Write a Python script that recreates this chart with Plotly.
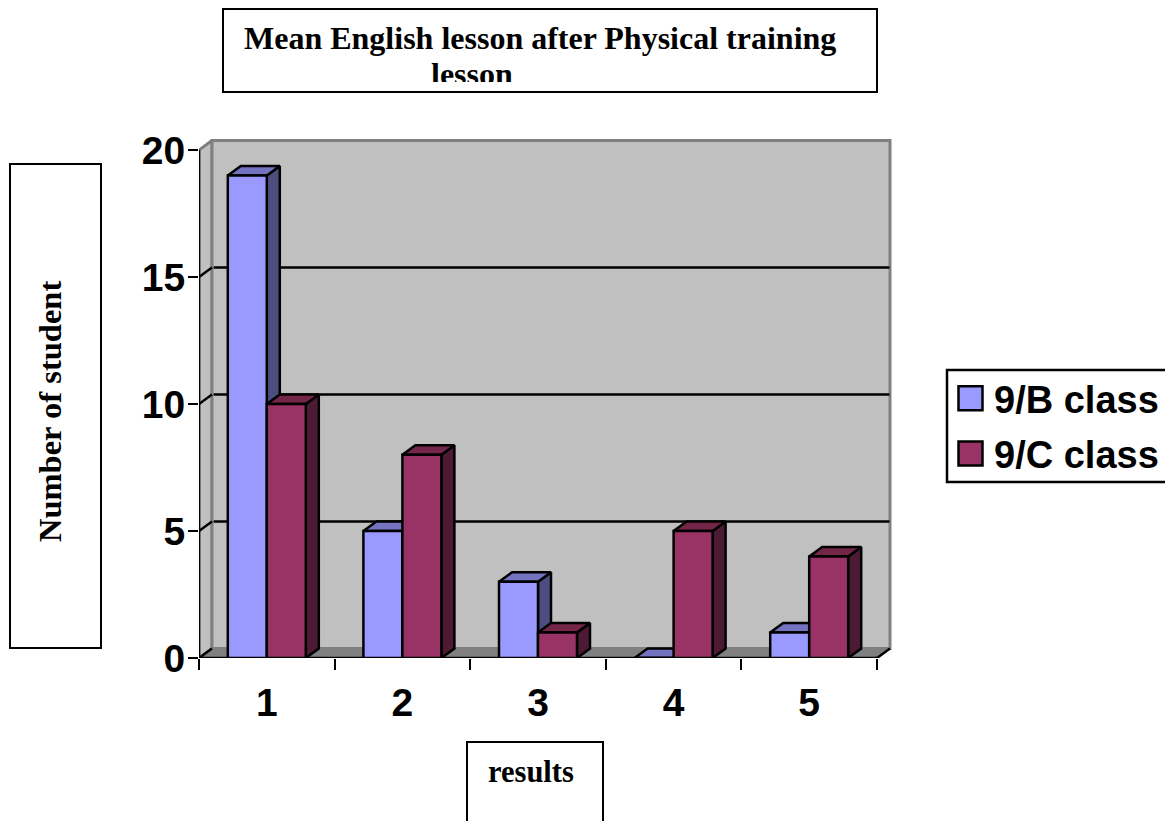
import plotly.graph_objects as go

categories = [1, 2, 3, 4, 5]
class_b = [19, 5, 3, 0, 1]
class_c = [10, 8, 1, 5, 4]
y_ticks = [0, 5, 10, 15, 20]
grid_values = [5, 10, 15]
x_edges = [0.5, 1.5, 2.5, 3.5, 4.5, 5.5]

W, H = 1165, 821
PL, PR, PT, PB = 199, 895, 135, 658      # plot rectangle, px
UX, UY = 135.6, 25.4                     # px per data unit
BAR = 39 / UX
DX, DY = 13 / UX, 9.5 / UY               # 3-D depth in data units
XMIN, XMAX = 0.5, 0.5 + (PR - PL) / UX
YMIN, YMAX = 0, (PB - PT) / UY
XR = 5.5
YTOP = 20

COL = {"B": ("#9999FF", "#7373BF", "#4D4D80"), "C": ("#993366", "#732648", "#4D1A33")}
BLACK = "#000000"
GREY = "#808080"
WALL = "#C0C0C0"
SERIF = "Liberation Serif"
SANS = "Liberation Sans"
LW = 2.5

fig = go.Figure()


def poly(xs, ys, fill, line=BLACK, lw=LW):
    fig.add_trace(go.Scatter(x=xs + xs[:1], y=ys + ys[:1], mode="lines", fill="toself", fillcolor=fill,
                             line=dict(color=line, width=lw), hoverinfo="skip", showlegend=False))


def lines(xs, ys, color=BLACK, lw=LW):
    fig.add_trace(go.Scatter(x=xs, y=ys, mode="lines", line=dict(color=color, width=lw),
                             hoverinfo="skip", showlegend=False))


# walls and floor
poly([XMIN, XMIN + DX, XMIN + DX, XMIN], [0, DY, YTOP + DY, YTOP], WALL, GREY, 3)
poly([XMIN + DX, XR + DX, XR + DX, XMIN + DX], [DY, DY, YTOP + DY, YTOP + DY], WALL, GREY, 3)
poly([XMIN, XMIN + DX, XR + DX, XR], [0, DY, DY, 0], GREY, GREY, 1)

# gridlines on the back wall and diagonal tick links on the side wall
gx, gy = [], []
for v in grid_values:
    gx += [XMIN + DX + 0.012, XR + DX - 0.004, None]
    gy += [v + DY, v + DY, None]
lines(gx, gy)
dx, dy = [], []
for v in y_ticks[:-1]:
    dx += [XMIN, XMIN + DX, None]
    dy += [v, v + DY, None]
dx += [XR, XR + DX]
dy += [0, DY]
lines(dx, dy)

# depth faces
for key, vals, sign in (("B", class_b, -1), ("C", class_c, 0)):
    front, top, side = COL[key]
    for c, v in zip(categories, vals):
        x0 = c + sign * BAR
        x1 = x0 + BAR
        poly([x1, x1 + DX, x1 + DX, x1], [0, DY, v + DY, v], side)
        poly([x0, x1, x1 + DX, x0 + DX], [v, v, v + DY, v + DY], top)

# axes lines at the front
lines([XMIN, XMIN, XR], [YTOP, 0, 0])

# front faces
fig.add_trace(go.Bar(x=categories, y=class_b, name="9/B class", xaxis="x2", yaxis="y2", width=BAR,
                     legendgroup="b", marker=dict(color=COL["B"][0], line=dict(color=BLACK, width=LW))))
fig.add_trace(go.Bar(x=categories, y=class_c, name="9/C class", xaxis="x2", yaxis="y2", width=BAR,
                     legendgroup="c", marker=dict(color=COL["C"][0], line=dict(color=BLACK, width=LW))))


def px(x):
    return x / W


def py(y):
    return 1 - y / H


def note(text, x, y, size=32, **kw):
    base = dict(xanchor="center", yanchor="middle")
    base.update(kw)
    return dict(text=text, x=px(x), y=py(y), xref="paper", yref="paper", showarrow=False,
                font=dict(family=SERIF, size=size, color=BLACK), **base)


def box(x0, y0, x1, y1):
    return dict(text=" ", x=px(x0), y=py(y0), xref="paper", yref="paper", xanchor="left", yanchor="top",
                width=x1 - x0 - 3, height=y1 - y0 - 3, showarrow=False, bgcolor="#FFFFFF",
                bordercolor=BLACK, borderwidth=2, borderpad=0, font=dict(size=8))


annotations = [
    box(222, 8, 877, 92),
    note("<b>Mean English lesson after Physical training</b>", 540, 38),
    note("<b>lesson</b>", 472, 55, yanchor="top", width=110, height=26, valign="top", borderpad=0),
    box(9, 163, 101, 648),
    note("<b>Number of student</b>", 50, 412, size=32.5, textangle=-90),
    box(466, 741, 603, 835),
    note("<b>results</b>", 531, 772, size=30.5),
]

domain_x = [px(PL), px(PR)]
domain_y = [py(PB), py(PT)]
tickfont = dict(family=SANS, size=39, color=BLACK)

fig.update_layout(
    width=W, height=H, margin=dict(l=0, r=0, t=0, b=0, autoexpand=False),
    paper_bgcolor="#FFFFFF", plot_bgcolor="rgba(0,0,0,0)",
    barmode="group", bargap=1 - 2 * BAR, bargroupgap=0,
    annotations=annotations,
    shapes=[dict(type="rect", xref="paper", yref="paper", x0=px(947), x1=px(1170), y0=py(370), y1=py(482),
                 line=dict(color=BLACK, width=2.5), fillcolor="#FFFFFF", layer="below")],
    xaxis=dict(domain=domain_x, range=[XMIN, XMAX], tickmode="array", tickvals=x_edges, ticktext=[""] * 6,
               ticks="outside", ticklen=11, tickwidth=2, tickcolor=BLACK, showgrid=False, zeroline=False,
               showline=False),
    yaxis=dict(domain=domain_y, range=[YMIN, YMAX], tickmode="array", tickvals=y_ticks,
               ticktext=[f"<b>{t}</b>" for t in y_ticks], ticks="outside", ticklen=10, tickwidth=2, tickcolor=BLACK,
               tickfont=tickfont, showgrid=False, zeroline=False, showline=False, ticklabelstandoff=-5),
    xaxis2=dict(domain=domain_x, range=[XMIN, XMAX], overlaying="x", anchor="y2", tickmode="array",
                tickvals=categories, ticktext=[f"<b>{c}</b>" for c in categories], ticks="outside", ticklen=10,
                tickwidth=0, tickcolor="rgba(0,0,0,0)", tickfont=tickfont, showgrid=False, zeroline=False,
                showline=False),
    yaxis2=dict(domain=domain_y, range=[YMIN, YMAX], overlaying="y", anchor="x2", visible=False),
    legend=dict(x=px(947), y=py(367), xanchor="left", yanchor="top", bgcolor="rgba(0,0,0,0)", borderwidth=0,
                font=dict(family=SANS, size=38, color=BLACK, weight="bold"), tracegroupgap=3, itemwidth=37,
                traceorder="grouped", itemclick=False),
    showlegend=True,
)

POST = """
document.body.style.margin='0';document.body.style.overflow='hidden';
function growSwatches(){
  document.querySelectorAll('.legendpoints path').forEach(function(p){
    if(p.getAttribute('d') && p.getAttribute('d').indexOf('M6,6')===0){p.setAttribute('d','M12,12H-12V-12H12Z');}
  });
}
growSwatches();setTimeout(growSwatches,50);setTimeout(growSwatches,300);
"""
fig.write_html("out.html", post_script=POST, config={"displayModeBar": False})
